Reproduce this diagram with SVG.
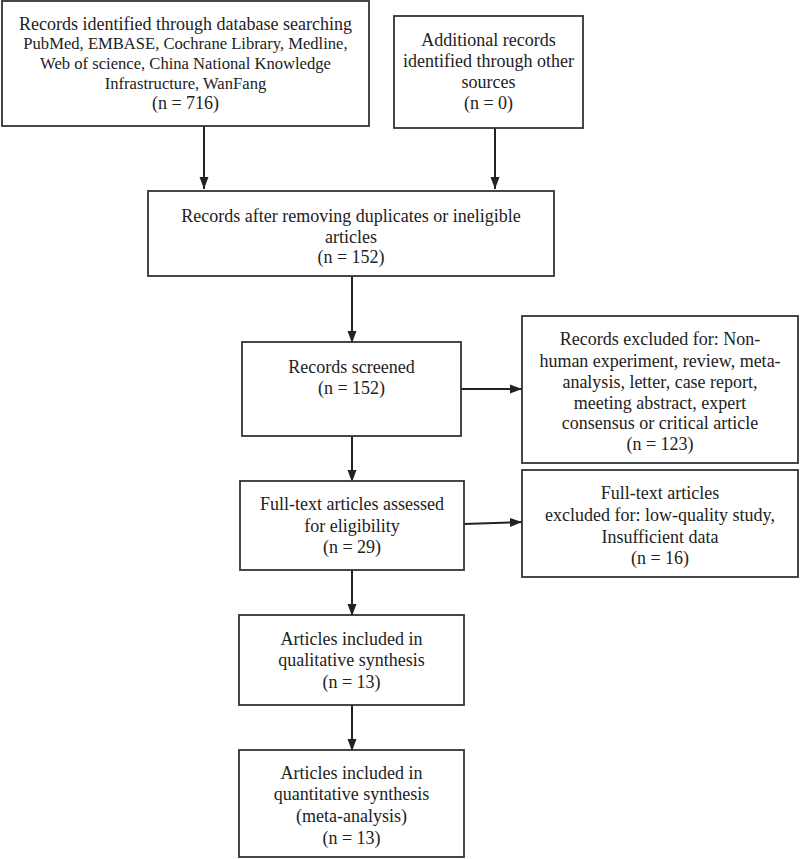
<svg xmlns="http://www.w3.org/2000/svg" width="800" height="859" viewBox="0 0 800 859">
<defs>
<marker id="ah" markerUnits="userSpaceOnUse" markerWidth="12" markerHeight="12" viewBox="0 0 12 12" refX="12" refY="6" orient="auto">
<path d="M0,1.5 L12,6 L0,10.5 Z" fill="#222"/>
</marker>
<style>
rect{fill:#fff;stroke:#333;stroke-width:1.8}
text{font-family:"Liberation Serif","Times New Roman",serif;font-size:18px;fill:#222;text-anchor:middle}
text.s{font-size:16.6px}
.c line{stroke:#222;stroke-width:2;marker-end:url(#ah)}
</style>
</defs>
<rect x="0" y="0" width="800" height="859" style="fill:#fff;stroke:none"/>
<g class="c" id="connectors">
<line x1="204" y1="126" x2="204" y2="189"/>
<line x1="495" y1="128" x2="495" y2="189"/>
<line x1="352" y1="276" x2="352" y2="343"/>
<line x1="352" y1="436" x2="352" y2="482"/>
<line x1="461" y1="389" x2="522" y2="389"/>
<line x1="464" y1="524" x2="522" y2="522"/>
<line x1="352" y1="570" x2="352" y2="616"/>
<line x1="352" y1="705" x2="352" y2="751"/>
</g>
<g id="n1">
<rect x="2" y="1" width="367" height="125"/>
<text x="185.5" y="30">Records identified through database searching</text>
<text class="s" x="185.5" y="49">PubMed, EMBASE, Cochrane Library, Medline,</text>
<text class="s" x="185.5" y="69">Web of science, China National Knowledge</text>
<text class="s" x="185.5" y="89">Infrastructure, WanFang</text>
<text x="185.5" y="109">(n = 716)</text>
</g>
<g id="n2">
<rect x="394" y="16" width="189" height="112"/>
<text x="488.5" y="46">Additional records</text>
<text x="488.5" y="67">identified through other</text>
<text x="488.5" y="88">sources</text>
<text x="488.5" y="109">(n = 0)</text>
</g>
<g id="n3">
<rect x="148" y="191" width="406" height="85"/>
<text x="351" y="222">Records after removing duplicates or ineligible</text>
<text x="351" y="243">articles</text>
<text x="351" y="263">(n = 152)</text>
</g>
<g id="n4">
<rect x="242" y="342" width="219" height="94"/>
<text x="351.5" y="373">Records screened</text>
<text x="351.5" y="394">(n = 152)</text>
</g>
<g id="n5">
<rect x="522" y="316" width="276" height="147"/>
<text x="660" y="345">Records excluded for: Non-</text>
<text x="660" y="367">human experiment, review, meta-</text>
<text x="660" y="388">analysis, letter, case report,</text>
<text x="660" y="409">meeting abstract, expert</text>
<text x="660" y="429">consensus or critical article</text>
<text x="660" y="450">(n = 123)</text>
</g>
<g id="n6">
<rect x="240" y="481" width="224" height="89"/>
<text x="352" y="510">Full-text articles assessed</text>
<text x="352" y="532">for eligibility</text>
<text x="352" y="553">(n = 29)</text>
</g>
<g id="n7">
<rect x="522" y="470" width="276" height="107"/>
<text x="660" y="499">Full-text articles</text>
<text x="660" y="521">excluded for: low-quality study,</text>
<text x="660" y="543">Insufficient data</text>
<text x="660" y="564">(n = 16)</text>
</g>
<g id="n8">
<rect x="239" y="615" width="225" height="90"/>
<text x="351.5" y="645">Articles included in</text>
<text x="351.5" y="666">qualitative synthesis</text>
<text x="351.5" y="688">(n = 13)</text>
</g>
<g id="n9">
<rect x="239" y="750" width="225" height="107"/>
<text x="351.5" y="779">Articles included in</text>
<text x="351.5" y="800">quantitative synthesis</text>
<text x="351.5" y="822">(meta-analysis)</text>
<text x="351.5" y="844">(n = 13)</text>
</g>
</svg>
